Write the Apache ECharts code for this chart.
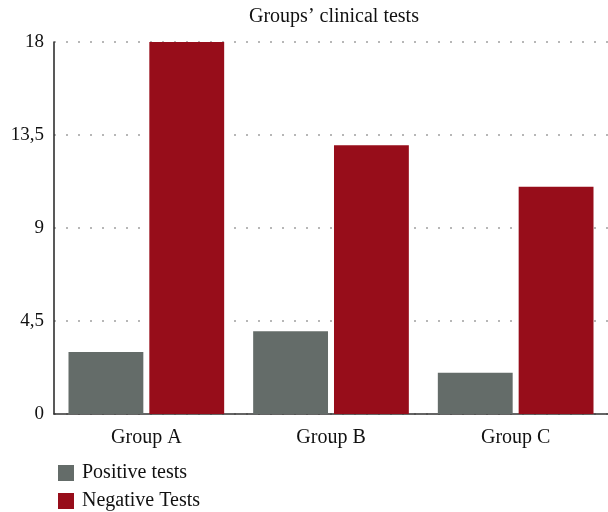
<!DOCTYPE html>
<html>
<head>
<meta charset="utf-8">
<script src="https://cdn.jsdelivr.net/npm/echarts@6/dist/echarts.min.js"></script>
<style>
  html, body { margin: 0; padding: 0; background: #fff; }
  #chart { width: 608px; height: 512px; }
</style>
</head>
<body>
<div id="chart"></div>
<script>
// chart data
const groups = ['Group A', 'Group B', 'Group C'];
const positiveTests = [3, 4, 2];
const negativeTests = [18, 13, 11];
const seriesNames = ['Positive tests', 'Negative Tests'];

const serif = '"Liberation Serif", "DejaVu Serif", serif';
const textColor = '#111';

// one legend block per row, stacked
const legendRow = (name, top) => ({
  left: 53,
  top: top,
  itemWidth: 16,
  itemHeight: 16,
  icon: 'rect',
  data: [name],
  textStyle: { fontFamily: serif, fontSize: 20, color: textColor, padding: [0, 0, 0, 3] }
});

const chart = echarts.init(document.getElementById('chart'));
chart.setOption({
  animation: false,
  title: {
    text: 'Groups\u2019 clinical tests',
    left: 244,
    top: 2,
    textStyle: { fontFamily: serif, fontSize: 20, fontWeight: 'normal', color: textColor }
  },
  legend: [legendRow(seriesNames[0], 458), legendRow(seriesNames[1], 486)],
  grid: { left: 54, right: -2, top: 42, bottom: 98, containLabel: false },
  xAxis: {
    type: 'category',
    data: groups,
    axisTick: { show: false },
    axisLine: { lineStyle: { color: '#333', width: 1.5 } },
    axisLabel: { fontFamily: serif, fontSize: 20, color: textColor, margin: 14 }
  },
  yAxis: {
    type: 'value',
    min: 0,
    max: 18,
    interval: 4.5,
    axisLine: { show: true, lineStyle: { color: '#222', width: 1.5 } },
    axisTick: { show: false },
    axisLabel: {
      fontFamily: serif, fontSize: 19, color: textColor, margin: 10,
      formatter: v => String(v).replace('.', ',')
    },
    splitLine: { lineStyle: { color: '#a0a0a0', type: [2, 10], width: 1.5 } }
  },
  series: [
    {
      name: seriesNames[0],
      type: 'bar',
      data: positiveTests,
      barGap: '8%',
      barCategoryGap: '15.7%',
      itemStyle: { color: '#646c69' }
    },
    {
      name: seriesNames[1],
      type: 'bar',
      data: negativeTests,
      itemStyle: { color: '#970d1a' }
    }
  ]
});
</script>
</body>
</html>
